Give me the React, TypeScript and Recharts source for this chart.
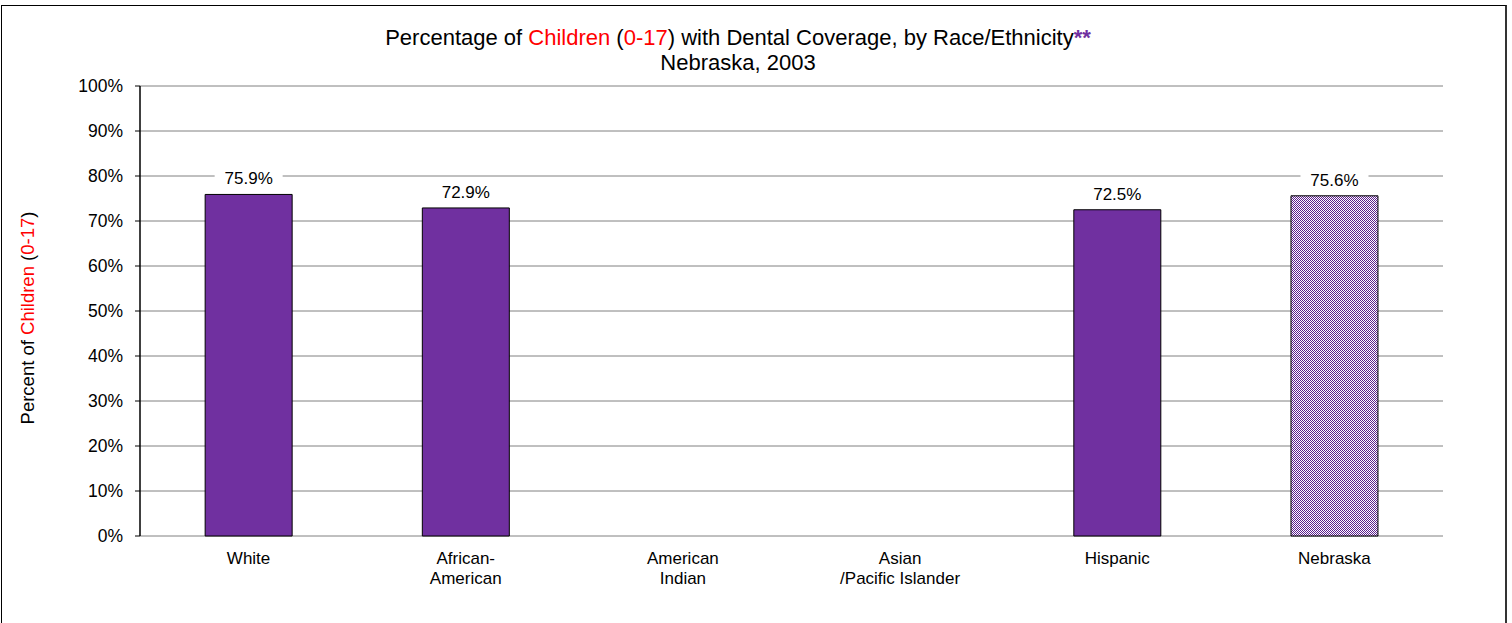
import { Bar, BarChart, CartesianGrid, Cell, LabelList, XAxis, YAxis } from 'recharts'

const groups = ['White', 'African-\nAmerican', 'American\nIndian', 'Asian\n/Pacific Islander', 'Hispanic', 'Nebraska']
const coverage: (number | null)[] = [75.9, 72.9, null, null, 72.5, 75.6]
const yTicks = [0, 10, 20, 30, 40, 50, 60, 70, 80, 90, 100]
const edgeTicks = [0, 1, 2, 3, 4, 5, 6]

const purple = '#7030A0'
const red = '#FF0000'
const font = '"Liberation Sans", Arial, sans-serif'

const rows = groups.map((g, i) => ({ idx: i + 0.5, group: g, value: coverage[i] }))

function GroupTick({ x, y, payload }: any) {
  const lines = String(payload.value).split('\n')
  return (
    <g>
      {lines.map((l, i) => (
        <text key={i} x={x} y={y + 20 + i * 20} textAnchor="middle" fontSize={17} fill="#000" fontFamily={font}>
          {l}
        </text>
      ))}
    </g>
  )
}

function ValueLabel({ x, y, width, value }: any) {
  if (value == null) return null
  const cx = x + width / 2
  const cy = y - 16
  return (
    <g>
      <rect x={cx - 34} y={cy - 11} width={68} height={22} fill="#fff" />
      <text x={cx} y={cy + 6} textAnchor="middle" fontSize={17} fill="#000" fontFamily={font}>
        {value.toFixed(1)}%
      </text>
    </g>
  )
}

export default function App() {
  return (
    <div style={{ position: 'absolute', left: 0, top: 0, width: 1512, height: 623, overflow: 'hidden', background: '#fff', fontFamily: font }}>
      <div style={{ position: 'absolute', left: 1, top: 5, width: 1503, height: 700, borderLeft: '1px solid #000', borderTop: '1px solid #000', borderRight: '2px solid #333' }} />
      <div style={{ position: 'absolute', left: 238, width: 1000, top: 25, textAlign: 'center', fontSize: 22, lineHeight: '25px', color: '#000' }}>
        Percentage of <span style={{ color: red }}>Children</span> (<span style={{ color: red }}>0-17</span>) with Dental Coverage, by Race/Ethnicity
        <span style={{ color: purple, fontWeight: 'bold' }}>**</span>
        <br />
        Nebraska, 2003
      </div>
      <div
        style={{
          position: 'absolute',
          left: 28,
          top: 318,
          transform: 'translate(-50%, -50%) rotate(-90deg)',
          whiteSpace: 'nowrap',
          fontSize: 18.5,
          color: '#000',
        }}
      >
        Percent of <span style={{ color: red }}>Children</span> (<span style={{ color: red }}>0-17</span>)
      </div>
      <div style={{ position: 'absolute', left: 0, top: 0 }}>
        <BarChart width={1512} height={623} data={rows} margin={{ top: 86, right: 69, bottom: 27, left: 80 }} barCategoryGap="30%">
          <defs>
            <pattern id="checks" width={2} height={2} patternUnits="userSpaceOnUse">
              <rect width={2} height={2} fill="#fff" />
              <rect width={1} height={1} fill="#5c1f8e" />
              <rect x={1} y={1} width={1} height={1} fill="#5c1f8e" />
            </pattern>
          </defs>
          <CartesianGrid vertical={false} stroke="#808080" strokeWidth={1} />
          <XAxis
            xAxisId="edges"
            type="number"
            dataKey="idx"
            domain={[0, 6]}
            ticks={edgeTicks}
            height={0}
            stroke="#000"
            tickSize={5}
            tickFormatter={() => ''}
            axisLine={{ stroke: '#000', strokeWidth: 1.5 }}
            tickLine={{ stroke: '#000' }}
          />
          <XAxis
            xAxisId="cat"
            dataKey="group"
            height={60}
            axisLine={false}
            tickLine={false}
            tick={<GroupTick />}
            interval={0}
          />
          <YAxis
            domain={[0, 100]}
            ticks={yTicks}
            width={60}
            tickFormatter={(v) => `${v}%`}
            tick={{ fontSize: 17.5, fill: '#000', fontFamily: font }}
            tickSize={5}
            tickMargin={12}
            axisLine={{ stroke: '#000', strokeWidth: 1.5 }}
            tickLine={{ stroke: '#000' }}
          />
          <YAxis yAxisId="right" orientation="right" width={0} domain={[0, 100]} tick={false} tickLine={false} axisLine={{ stroke: '#808080' }} />
          <Bar xAxisId="cat" dataKey="value" fill={purple} stroke="#000" strokeWidth={1} isAnimationActive={false}>
            {rows.map((r, i) => (
              <Cell key={i} fill={r.group === 'Nebraska' ? 'url(#checks)' : purple} />
            ))}
            <LabelList dataKey="value" content={<ValueLabel />} />
          </Bar>
        </BarChart>
      </div>
    </div>
  )
}
